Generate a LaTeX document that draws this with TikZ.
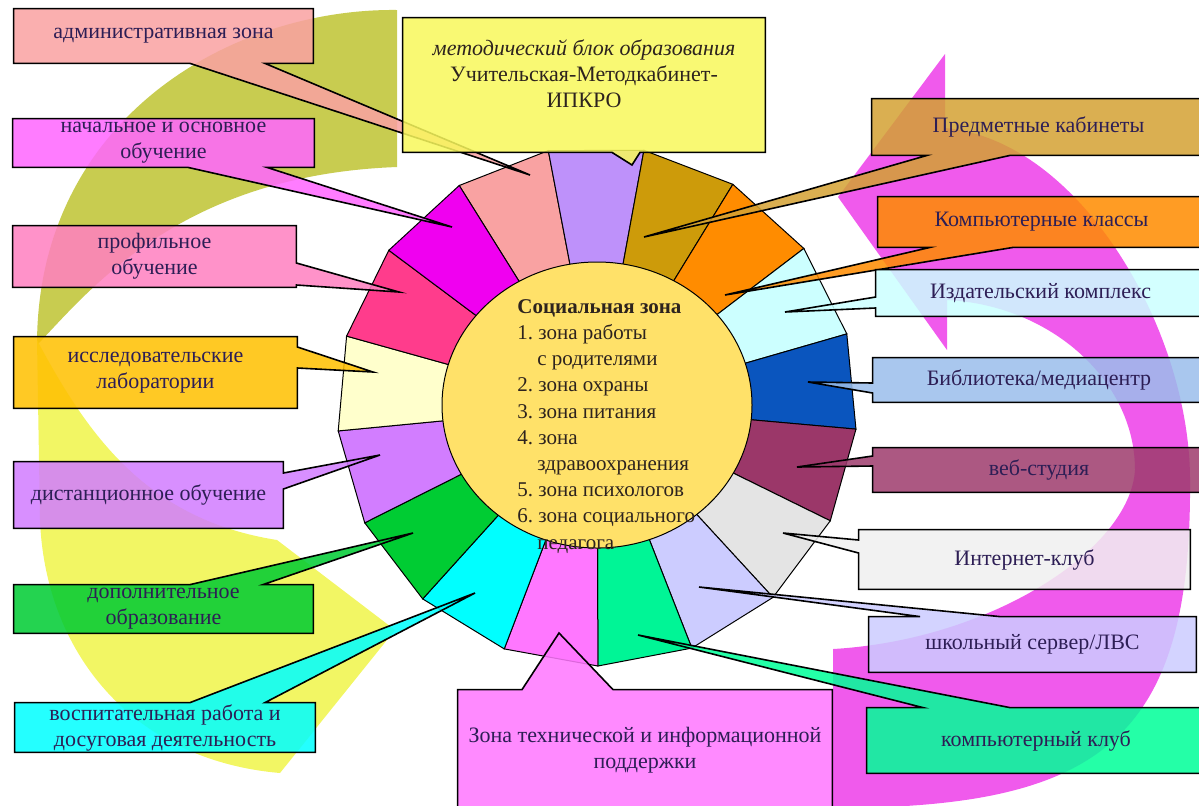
\documentclass[tikz,border=0pt]{standalone}
\usepackage{fontspec}
\setmainfont{Liberation Serif}
\usetikzlibrary{positioning}

\definecolor{ink}{RGB}{45,30,85}
\definecolor{inkdark}{RGB}{45,35,30}
\definecolor{olivebg}{RGB}{200,204,80}
\definecolor{yellowbg}{RGB}{242,246,100}
\definecolor{pinkbg}{RGB}{240,90,236}
\definecolor{hubfill}{RGB}{255,225,105}
% wheel segments
\definecolor{sAdmin}{RGB}{249,162,162}
\definecolor{sMetod}{RGB}{190,145,250}
\definecolor{sPredm}{RGB}{205,155,10}
\definecolor{sKomp}{RGB}{255,140,0}
\definecolor{sIzd}{RGB}{204,255,255}
\definecolor{sBibl}{RGB}{10,85,190}
\definecolor{sWeb}{RGB}{155,55,105}
\definecolor{sInet}{RGB}{228,228,228}
\definecolor{sServ}{RGB}{204,204,255}
\definecolor{sKlub}{RGB}{0,245,150}
\definecolor{sTech}{RGB}{255,119,255}
\definecolor{sVosp}{RGB}{0,255,255}
\definecolor{sDop}{RGB}{0,204,51}
\definecolor{sDist}{RGB}{210,125,255}
\definecolor{sIssl}{RGB}{255,255,204}
\definecolor{sProf}{RGB}{255,60,140}
\definecolor{sNach}{RGB}{240,0,240}
% callout boxes
\definecolor{bAdmin}{RGB}{249,162,162}
\definecolor{bNach}{RGB}{255,102,255}
\definecolor{bProf}{RGB}{255,128,192}
\definecolor{bIssl}{RGB}{255,192,0}
\definecolor{bDist}{RGB}{210,125,255}
\definecolor{bDop}{RGB}{0,204,51}
\definecolor{bVosp}{RGB}{0,255,255}
\definecolor{bMetod}{RGB}{248,248,92}
\definecolor{bPredm}{RGB}{212,162,52}
\definecolor{bKomp}{RGB}{255,140,0}
\definecolor{bIzd}{RGB}{204,255,255}
\definecolor{bBibl}{RGB}{155,190,235}
\definecolor{bWeb}{RGB}{158,60,110}
\definecolor{bInet}{RGB}{240,240,240}
\definecolor{bServ}{RGB}{204,204,255}
\definecolor{bKlub}{RGB}{0,255,153}
\definecolor{bTech}{RGB}{255,119,255}

\pgfdeclarelayer{back}
\pgfdeclarelayer{mid}
\pgfsetlayers{back,mid,main}

\tikzset{
    zonebox/.style={rectangle, inner sep=0pt, align=center, text=ink,
        font=\fontsize{11}{13}\selectfont},
    callout/.style={draw=black, line width=0.8pt, line join=miter, fill opacity=0.86},
    seg/.style={draw=black, line width=0.5pt, line join=miter}
}

\begin{document}
\begin{tikzpicture}[x=0.5pt, y=0.5pt]
    \useasboundingbox (0,0) rectangle (1199,-805);

    % background arrows and the wheel
    \begin{pgfonlayer}{back}
        \fill[olivebg] (397,-10) .. controls (230,-8) and (37,-120) .. (37,-345)
            .. controls (90,-290) and (180,-175) .. (397,-167) -- cycle;
        \fill[yellowbg] (37,-340) -- (40,-520) .. controls (45,-650) and (130,-760) .. (280,-773)
            -- (395,-630) -- (277,-540) .. controls (150,-520) and (90,-440) .. (37,-340) -- cycle;
        \fill[pinkbg] (833,-808) .. controls (1100,-808) and (1192,-740) .. (1190,-480)
            .. controls (1190,-330) and (1080,-140) .. (945,-128) -- (945,-54) -- (838,-197)
            -- (947,-350) -- (947,-300) .. controls (1050,-305) and (1135,-380) .. (1135,-470)
            .. controls (1130,-550) and (990,-640) .. (833,-649) -- cycle;

        \begin{scope}[shift={(597,-406)}]
            \filldraw[seg, fill=sAdmin] (0,0) -- (122:260) -- (100.8:260) -- cycle;
            \filldraw[seg, fill=sMetod] (0,0) -- (100.8:260) -- (79.6:260) -- cycle;
            \filldraw[seg, fill=sPredm] (0,0) -- (79.6:260) -- (58.5:260) -- cycle;
            \filldraw[seg, fill=sKomp] (0,0) -- (58.5:260) -- (37.3:260) -- cycle;
            \filldraw[seg, fill=sIzd] (0,0) -- (37.3:260) -- (16.1:260) -- cycle;
            \filldraw[seg, fill=sBibl] (0,0) -- (16.1:260) -- (-5.1:260) -- cycle;
            \filldraw[seg, fill=sWeb] (0,0) -- (-5.1:260) -- (-26.2:260) -- cycle;
            \filldraw[seg, fill=sInet] (0,0) -- (-26.2:260) -- (-47.4:260) -- cycle;
            \filldraw[seg, fill=sServ] (0,0) -- (-47.4:260) -- (-68.6:260) -- cycle;
            \filldraw[seg, fill=sKlub] (0,0) -- (-68.6:260) -- (-89.8:260) -- cycle;
            \filldraw[seg, fill=sTech] (0,0) -- (-89.8:260) -- (-110.9:260) -- cycle;
            \filldraw[seg, fill=sVosp] (0,0) -- (-110.9:260) -- (-132.1:260) -- cycle;
            \filldraw[seg, fill=sDop] (0,0) -- (-132.1:260) -- (-153.3:260) -- cycle;
            \filldraw[seg, fill=sDist] (0,0) -- (-153.3:260) -- (-174.5:260) -- cycle;
            \filldraw[seg, fill=sIssl] (0,0) -- (-174.5:260) -- (-195.6:260) -- cycle;
            \filldraw[seg, fill=sProf] (0,0) -- (-195.6:260) -- (-216.8:260) -- cycle;
            \filldraw[seg, fill=sNach] (0,0) -- (-216.8:260) -- (-238:260) -- cycle;
            \filldraw[seg, fill=hubfill] (0,1) ellipse [x radius=155, y radius=143];
        \end{scope}
    \end{pgfonlayer}

    % pointer tips
    \coordinate (tipAdmin) at (530,-175);
    \coordinate (tipNach) at (452,-227);
    \coordinate (tipProf) at (399,-292);
    \coordinate (tipIssl) at (373,-372);
    \coordinate (tipDist) at (380,-455);
    \coordinate (tipDop) at (413,-533);
    \coordinate (tipVosp) at (475,-593);
    \coordinate (tipMetod) at (632,-165);
    \coordinate (tipPredm) at (644,-237);
    \coordinate (tipKomp) at (725,-295);
    \coordinate (tipIzd) at (785,-312);
    \coordinate (tipBibl) at (808,-382);
    \coordinate (tipWeb) at (797,-467);
    \coordinate (tipInet) at (783,-533);
    \coordinate (tipServ) at (699,-587);
    \coordinate (tipKlub) at (638,-635);
    \coordinate (tipTech) at (559,-633);

    % zones on the left
    \node[zonebox, minimum width=149.5pt, minimum height=27pt] (admin) at (163.5,-36) {административная зона};
    \node[zonebox, minimum width=150.5pt, minimum height=24pt] (nach) at (163.5,-143) {начальное и основное\\обучение};
    \node[zonebox, minimum width=141.5pt, minimum height=30.5pt] (prof) at (154.5,-256.5) {профильное\\обучение};
    \node[zonebox, minimum width=141.5pt, minimum height=35.5pt] (issl) at (155.5,-372.5) {исследовательские\\лаборатории};
    \node[zonebox, minimum width=134.5pt, minimum height=33pt] (dist) at (148.5,-495) {дистанционное обучение};
    \node[zonebox, minimum width=149.5pt, minimum height=24pt] (dop) at (163.5,-609) {дополнительное\\образование};
    \node[zonebox, minimum width=150pt, minimum height=24.5pt] (vosp) at (165,-727.5) {воспитательная работа и\\досуговая деятельность};

    % top and bottom
    \node[zonebox, minimum width=181pt, minimum height=67pt] (metod) at (584,-85) {};
    \node[zonebox, text=inkdark, below=11pt of metod.north] (metodtext) {{\itshape методический блок образования}\\Учительская-Методкабинет-\\ИПКРО};
    \node[zonebox, minimum width=187pt, minimum height=60pt] (tech) at (645,-750) {Зона технической и информационной\\поддержки};

    % zones on the right
    \node[zonebox, minimum width=166.5pt, minimum height=28pt] (predm) at (1038.5,-127) {Предметные кабинеты};
    \node[zonebox, minimum width=163.5pt, minimum height=25pt] (komp) at (1041.5,-222) {Компьютерные классы};
    \node[zonebox, minimum width=164.5pt, minimum height=23pt] (izd) at (1040.5,-293) {Издательский комплекс};
    \node[zonebox, minimum width=166pt, minimum height=22pt] (bibl) at (1039,-380) {Библиотека/медиацентр};
    \node[zonebox, minimum width=166pt, minimum height=22pt] (web) at (1039,-470) {веб-студия};
    \node[zonebox, minimum width=165.5pt, minimum height=29.5pt] (inet) at (1024.5,-559.5) {Интернет-клуб};
    \node[zonebox, minimum width=163.5pt, minimum height=27.5pt] (serv) at (1032.5,-644.5) {школьный сервер/ЛВС};
    \node[zonebox, minimum width=169pt, minimum height=32.5pt] (klub) at (1036,-740.5) {компьютерный клуб};

    % centre
    \node[anchor=north west, inner sep=0pt, align=left, text=inkdark,
        font=\fontsize{10.5}{13.1}\selectfont\frenchspacing] (social) at (517,-299)
        {\textbf{Социальная зона}\\1. зона работы\\\hspace*{10pt}с родителями\\2. зона охраны\\3. зона питания\\4. зона\\\hspace*{10pt}здравоохранения\\5. зона психологов\\6. зона социального\\\hspace*{10pt}педагога};

    % callout outlines
    \begin{pgfonlayer}{mid}
        \draw[callout, fill=bAdmin] (admin.north west) -- (admin.north east) -- (admin.south east) -- ([xshift=50.75pt]admin.south) -- (tipAdmin) -- ([xshift=13.25pt]admin.south) -- (admin.south west) -- cycle;
        \draw[callout, fill=bNach] (nach.north west) -- (nach.north east) -- (nach.south east) -- ([xshift=51.75pt]nach.south) -- (tipNach) -- ([xshift=12.25pt]nach.south) -- (nach.south west) -- cycle;
        \draw[callout, fill=bProf] (prof.north west) -- (prof.north east) -- ([yshift=-3.25pt]prof.east) -- (tipProf) -- ([yshift=-14.25pt]prof.east) -- (prof.south east) -- (prof.south west) -- cycle;
        \draw[callout, fill=bIssl] (issl.north west) -- (issl.north east) -- ([yshift=12.75pt]issl.east) -- (tipIssl) -- ([yshift=2.25pt]issl.east) -- (issl.south east) -- (issl.south west) -- cycle;
        \draw[callout, fill=bDist] (dist.north west) -- (dist.north east) -- ([yshift=11pt]dist.east) -- (tipDist) -- ([yshift=3pt]dist.east) -- (dist.south east) -- (dist.south west) -- cycle;
        \draw[callout, fill=bDop] (dop.north west) -- ([xshift=13.25pt]dop.north) -- (tipDop) -- ([xshift=49.75pt]dop.north) -- (dop.north east) -- (dop.south east) -- (dop.south west) -- cycle;
        \draw[callout, fill=bVosp] (vosp.north west) -- ([xshift=12.5pt]vosp.north) -- (tipVosp) -- ([xshift=50pt]vosp.north) -- (vosp.north east) -- (vosp.south east) -- (vosp.south west) -- cycle;
        \draw[callout, fill=bMetod] (metod.north west) -- (metod.north east) -- (metod.south east) -- ([xshift=28pt]metod.south) -- (tipMetod) -- ([xshift=14pt]metod.south) -- (metod.south west) -- cycle;
        \draw[callout, fill=bTech] (tech.north west) -- ([xshift=-61.5pt]tech.north) -- (tipTech) -- ([xshift=-16pt]tech.north) -- (tech.north east) -- (tech.south east) -- (tech.south west) -- cycle;
        \draw[callout, fill=bPredm] (predm.north west) -- (predm.north east) -- (predm.south east) -- ([xshift=-14.25pt]predm.south) -- (tipPredm) -- ([xshift=-55.75pt]predm.south) -- (predm.south west) -- cycle;
        \draw[callout, fill=bKomp] (komp.north west) -- (komp.north east) -- (komp.south east) -- ([xshift=-14.25pt]komp.south) -- (tipKomp) -- ([xshift=-55.75pt]komp.south) -- (komp.south west) -- cycle;
        \draw[callout, fill=bIzd] (izd.north west) -- (izd.north east) -- (izd.south east) -- (izd.south west) -- ([yshift=-7.5pt]izd.west) -- (tipIzd) -- ([yshift=-2pt]izd.west) -- cycle;
        \draw[callout, fill=bBibl] (bibl.north west) -- (bibl.north east) -- (bibl.south east) -- (bibl.south west) -- ([yshift=-6.5pt]bibl.west) -- (tipBibl) -- ([yshift=-1.5pt]bibl.west) -- cycle;
        \draw[callout, fill=bWeb] (web.north west) -- (web.north east) -- (web.south east) -- (web.south west) -- ([yshift=2pt]web.west) -- (tipWeb) -- ([yshift=7pt]web.west) -- cycle;
        \draw[callout, fill=bInet] (inet.north west) -- (inet.north east) -- (inet.south east) -- (inet.south west) -- ([yshift=3.25pt]inet.west) -- (tipInet) -- ([yshift=9.75pt]inet.west) -- cycle;
        \draw[callout, fill=bServ] (serv.north west) -- ([xshift=-56.25pt]serv.north) -- (tipServ) -- ([xshift=-16.25pt]serv.north) -- (serv.north east) -- (serv.south east) -- (serv.south west) -- cycle;
        \draw[callout, fill=bKlub] (klub.north west) -- ([xshift=-56.5pt]klub.north) -- (tipKlub) -- ([xshift=-13pt]klub.north) -- (klub.north east) -- (klub.south east) -- (klub.south west) -- cycle;
    \end{pgfonlayer}
\end{tikzpicture}
\end{document}
